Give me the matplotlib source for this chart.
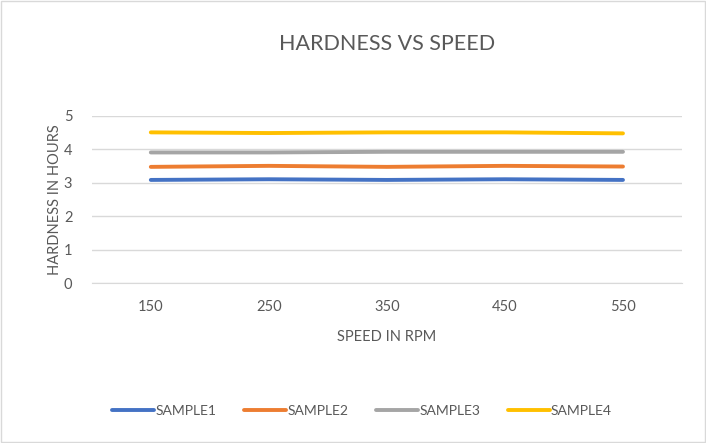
import matplotlib.pyplot as plt
from matplotlib.patches import Rectangle

plt.rcParams['font.family'] = ['Lato', 'DejaVu Sans']

speed = ["150", "250", "350", "450", "550"]
sample1 = [3.08, 3.10, 3.08, 3.10, 3.08]
sample2 = [3.47, 3.50, 3.47, 3.50, 3.48]
sample3 = [3.90, 3.90, 3.92, 3.92, 3.92]
sample4 = [4.50, 4.48, 4.50, 4.50, 4.47]

series = [
    ("SAMPLE1", sample1, "#4472C4"),
    ("SAMPLE2", sample2, "#ED7D31"),
    ("SAMPLE3", sample3, "#A5A5A5"),
    ("SAMPLE4", sample4, "#FFC000"),
]

txt = "#595959"

fig = plt.figure(figsize=(7.06, 4.43), dpi=100)
ax = fig.add_axes([0.130, 0.361, 0.836, 0.378])

x = range(len(speed))
for name, vals, col in series:
    ax.plot(x, vals, color=col, lw=2.8, solid_capstyle="round", label=name)

ax.set_xlim(-0.5, len(speed) - 0.5)
ax.set_ylim(0, 5)
ax.set_yticks(range(0, 6))
ax.set_xticks(list(x))
ax.set_xticklabels(speed)
ax.grid(axis="y", color="#d9d9d9", lw=1)
ax.set_axisbelow(True)
for s in ["top", "right", "left"]:
    ax.spines[s].set_visible(False)
ax.spines["bottom"].set_color("#d9d9d9")
ax.tick_params(length=0, colors=txt, labelsize=10.5)
ax.tick_params(axis="x", pad=12)
ax.tick_params(axis="y", pad=14)

ax.set_title("HARDNESS VS SPEED", color=txt, fontsize=15.5, pad=47)
ax.set_xlabel("SPEED IN RPM", color=txt, fontsize=10.5, labelpad=12)
ax.set_ylabel("HARDNESS IN HOURS", color=txt, fontsize=10.5, labelpad=1)

fig.legend(loc="center", bbox_to_anchor=(0.513, 0.072), ncol=4, frameon=False,
           fontsize=10, labelcolor=txt, handlelength=3.0, handletextpad=0.1,
           columnspacing=2.0)

fig.patches.append(Rectangle((0.002, 0.003), 0.996, 0.994, transform=fig.transFigure,
                             fill=False, edgecolor="#d9d9d9", lw=1))

fig.savefig("out.png", dpi=100)
